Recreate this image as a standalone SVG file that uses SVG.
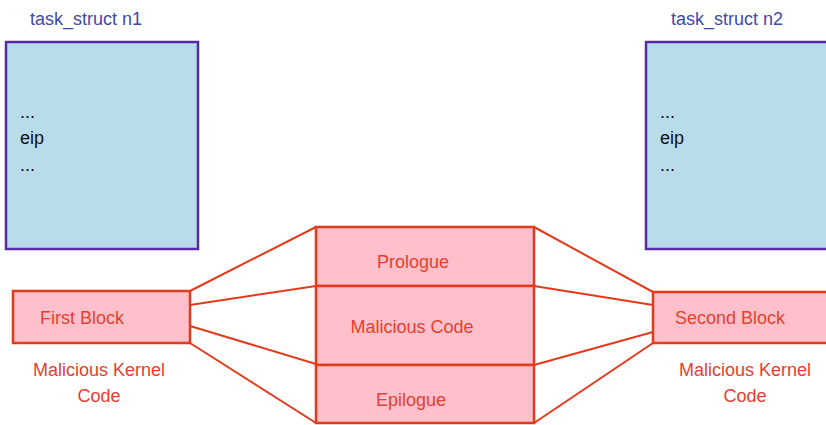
<svg xmlns="http://www.w3.org/2000/svg" width="826" height="425" viewBox="0 0 826 425">
<style>
text{font-family:"Liberation Sans",Arial,sans-serif;font-size:18px}
.title{fill:#3d4aa8}
.body{fill:#111}
.red{fill:#e5402e}
.task{fill:#b8dcea;stroke:#5a2aa6;stroke-width:2.5}
.blk{fill:#ffc0cb;stroke:#e33a1c;stroke-width:2.5}
.conn line{stroke:#e33a1c;stroke-width:2}
</style>
<rect width="826" height="425" fill="#fff"/>
<g id="task1">
<text class="title" x="30" y="25">task_struct n1</text>
<rect class="task" x="6" y="42" width="192" height="207"/>
<text class="body" x="20" y="118">...</text>
<text class="body" x="20" y="144">eip</text>
<text class="body" x="20" y="171">...</text>
</g>
<g id="task2">
<text class="title" x="671" y="25">task_struct n2</text>
<rect class="task" x="646" y="42" width="190" height="207"/>
<text class="body" x="660" y="118">...</text>
<text class="body" x="660" y="144">eip</text>
<text class="body" x="660" y="171">...</text>
</g>
<g class="conn" id="connectors">
<line x1="190" y1="291" x2="316" y2="227"/>
<line x1="190" y1="305" x2="316" y2="286"/>
<line x1="190" y1="326" x2="316" y2="364"/>
<line x1="190" y1="343" x2="316" y2="423"/>
<line x1="534" y1="227" x2="653" y2="292"/>
<line x1="534" y1="286" x2="653" y2="305"/>
<line x1="534" y1="365" x2="653" y2="332"/>
<line x1="534" y1="423" x2="653" y2="343"/>
</g>
<g id="first">
<rect class="blk" x="13" y="291" width="177" height="52"/>
<text class="red" x="40" y="324">First Block</text>
<text class="red" x="99" y="376" text-anchor="middle">Malicious Kernel</text>
<text class="red" x="99" y="402" text-anchor="middle">Code</text>
</g>
<g id="prologue">
<rect class="blk" x="316" y="227" width="218" height="59"/>
<text class="red" x="413" y="268" text-anchor="middle">Prologue</text>
</g>
<g id="malicious">
<rect class="blk" x="316" y="286" width="218" height="79"/>
<text class="red" x="412" y="333" text-anchor="middle">Malicious Code</text>
</g>
<g id="epilogue">
<rect class="blk" x="316" y="365" width="218" height="58"/>
<text class="red" x="411" y="406" text-anchor="middle">Epilogue</text>
</g>
<g id="second">
<rect class="blk" x="653" y="292" width="183" height="51"/>
<text class="red" x="675" y="324">Second Block</text>
<text class="red" x="745" y="376" text-anchor="middle">Malicious Kernel</text>
<text class="red" x="745" y="402" text-anchor="middle">Code</text>
</g>
</svg>
